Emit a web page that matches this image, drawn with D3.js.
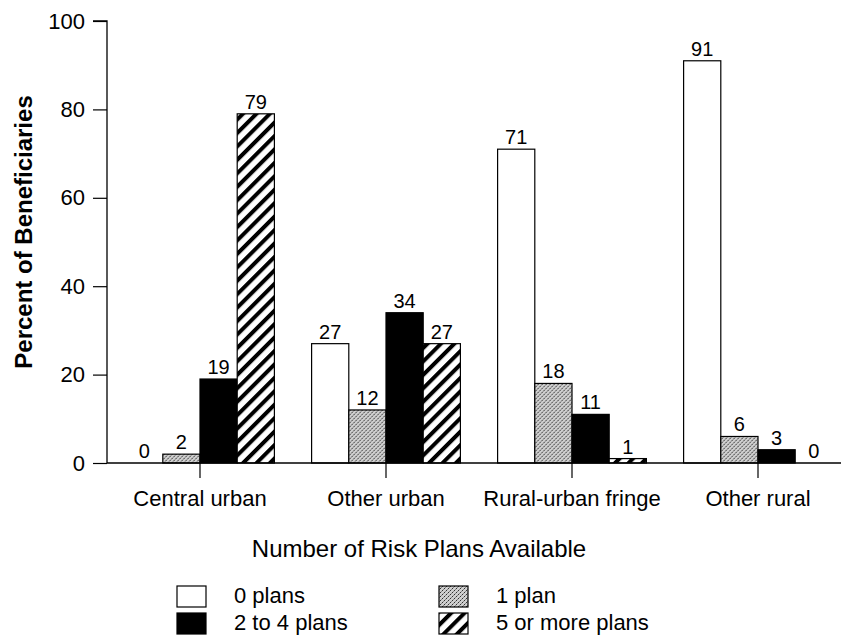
<!DOCTYPE html>
<html>
<head>
<meta charset="utf-8">
<script src="https://cdn.jsdelivr.net/npm/d3@7"></script>
<style>
  html, body { margin: 0; padding: 0; background: #fff; }
  svg { display: block; }
  text { font-family: "Liberation Sans", Arial, Helvetica, sans-serif; fill: #000; }
</style>
</head>
<body>
<svg id="chart" width="841" height="637"></svg>
<script>
const categories = ["Central urban", "Other urban", "Rural-urban fringe", "Other rural"];
const seriesNames = ["0 plans", "1 plan", "2 to 4 plans", "5 or more plans"];
const plans0 = [0, 27, 71, 91];
const plans1 = [2, 12, 18, 6];
const plans2to4 = [19, 34, 11, 3];
const plans5plus = [79, 27, 1, 0];
const yTicks = [0, 20, 40, 60, 80, 100];
const yTitle = "Percent of Beneficiaries";
const xTitle = "Number of Risk Plans Available";

const seriesValues = [plans0, plans1, plans2to4, plans5plus];
const fills = ["#fff", "url(#stipple)", "#000", "url(#hatch)"];

const svg = d3.select("#chart");
const defs = svg.append("defs");

// stipple gray pattern
const st = defs.append("pattern").attr("id", "stipple")
  .attr("patternUnits", "userSpaceOnUse").attr("width", 4).attr("height", 4);
st.append("rect").attr("width", 4).attr("height", 4).attr("fill", "#cfcfcf");
st.append("rect").attr("x", 0).attr("y", 0).attr("width", 1).attr("height", 1).attr("fill", "#333");
st.append("rect").attr("x", 2).attr("y", 2).attr("width", 1).attr("height", 1).attr("fill", "#333");
st.append("rect").attr("x", 3).attr("y", 1).attr("width", 1).attr("height", 1).attr("fill", "#888");
st.append("rect").attr("x", 1).attr("y", 3).attr("width", 1).attr("height", 1).attr("fill", "#888");

// hatch pattern
const ht = defs.append("pattern").attr("id", "hatch")
  .attr("patternUnits", "userSpaceOnUse").attr("width", 9.5).attr("height", 9.5)
  .attr("patternTransform", "rotate(45)");
ht.append("rect").attr("width", 9.5).attr("height", 9.5).attr("fill", "#fff");
ht.append("rect").attr("x", 0).attr("y", 0).attr("width", 4).attr("height", 9.5).attr("fill", "#000");

const x0 = d3.scaleBand().domain(categories).range([107, 851])
  .paddingInner(0.2).paddingOuter(0.1);
const x1 = d3.scaleBand().domain(seriesNames).range([0, x0.bandwidth()]);
const y = d3.scaleLinear().domain([0, 100]).range([463, 21]);

// bars
const groups = svg.append("g").selectAll("g").data(categories).join("g")
  .attr("transform", d => `translate(${x0(d)},0)`);

groups.each(function(cat, ci) {
  const g = d3.select(this);
  seriesNames.forEach((s, si) => {
    const v = seriesValues[si][ci];
    if (v > 0) {
      g.append("rect")
        .attr("x", x1(s))
        .attr("y", y(v))
        .attr("width", x1.bandwidth())
        .attr("height", y(0) - y(v))
        .attr("fill", fills[si])
        .attr("stroke", "#000")
        .attr("stroke-width", 1.2);
    }
    g.append("text")
      .attr("x", x1(s) + x1.bandwidth() / 2)
      .attr("y", y(v) - 5)
      .attr("text-anchor", "middle")
      .attr("font-size", 20)
      .text(v);
  });
});

// y axis
const yAxis = d3.axisLeft(y).tickValues(yTicks).tickSize(14).tickPadding(8);
const yg = svg.append("g").attr("transform", "translate(107,0)").call(yAxis);
yg.select(".domain").attr("stroke", "#000").attr("stroke-width", 1.3)
  .attr("d", `M-14,${y(100)}H0V${y(0)}`);
yg.selectAll(".tick line").attr("stroke", "#000").attr("stroke-width", 1.2);
yg.selectAll(".tick text").attr("font-size", 22)
  .style("font-family", '"Liberation Sans", Arial, Helvetica, sans-serif');

// x axis (baseline)
const xAxis = d3.axisBottom(x0).tickSize(15).tickPadding(12);
const xg = svg.append("g").attr("transform", `translate(0,${y(0)})`).call(xAxis);
xg.select(".domain").attr("stroke", "#000").attr("stroke-width", 1.3)
  .attr("d", `M107,0H851`);
xg.selectAll(".tick line").attr("stroke", "#000").attr("stroke-width", 1.2);
xg.selectAll(".tick text").attr("font-size", 22)
  .style("font-family", '"Liberation Sans", Arial, Helvetica, sans-serif');

// y title
svg.append("text")
  .attr("transform", "translate(32,232) rotate(-90)")
  .attr("text-anchor", "middle")
  .attr("font-size", 24)
  .attr("font-weight", "bold")
  .text(yTitle);

// x title
svg.append("text")
  .attr("x", 419).attr("y", 557)
  .attr("text-anchor", "middle")
  .attr("font-size", 24)
  .text(xTitle);

// legend
const legendPos = [[177, 586], [439, 586], [177, 613], [439, 613]];
const lg = svg.append("g");
seriesNames.forEach((s, i) => {
  const [lx, ly] = legendPos[i];
  lg.append("rect").attr("x", lx).attr("y", ly).attr("width", 29).attr("height", 21)
    .attr("fill", fills[i]).attr("stroke", "#000").attr("stroke-width", 1.2);
  lg.append("text").attr("x", lx + 57).attr("y", ly + 17)
    .attr("font-size", 22).text(s);
});
</script>
</body>
</html>
